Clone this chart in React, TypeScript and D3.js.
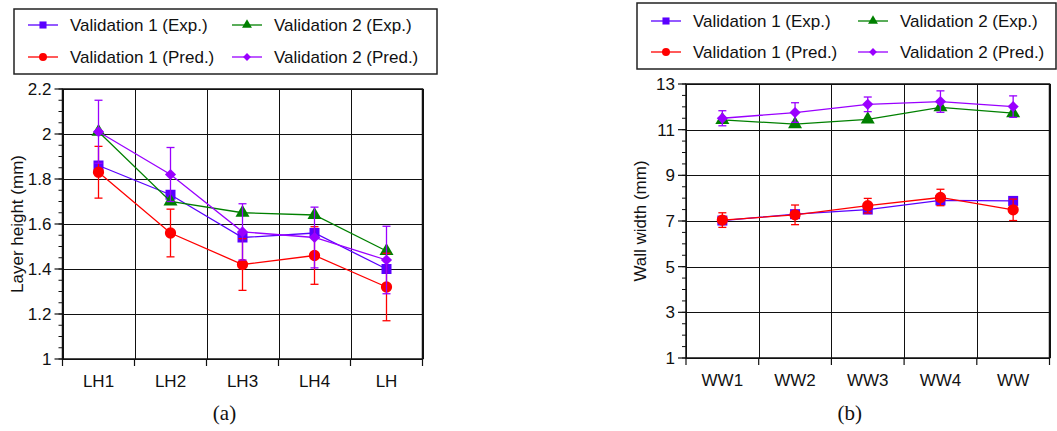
import React from "react";
import * as d3 from "d3";

// (a) layer height
const lhCategories = ["LH1", "LH2", "LH3", "LH4", "LH"];
const lhV1Exp = [1.86, 1.73, 1.54, 1.56, 1.4];
const lhV2Exp = [2.01, 1.7, 1.65, 1.64, 1.48];
const lhV1Pred = [1.83, 1.56, 1.42, 1.46, 1.32];
const lhV1PredErr = [0.115, 0.106, 0.115, 0.128, 0.15];
const lhV2Pred = [2.01, 1.82, 1.565, 1.54, 1.44];
const lhV2PredErr = [0.14, 0.12, 0.125, 0.135, 0.15];
const lhTicks = [1, 1.2, 1.4, 1.6, 1.8, 2, 2.2];

// (b) wall width
const wwCategories = ["WW1", "WW2", "WW3", "WW4", "WW"];
const wwV1Exp = [7.02, 7.3, 7.5, 7.9, 7.88];
const wwV2Exp = [11.43, 11.24, 11.45, 11.98, 11.72];
const wwV1Pred = [7.04, 7.27, 7.67, 8.03, 7.49];
const wwV1PredErr = [0.32, 0.43, 0.32, 0.36, 0.47];
const wwV2Pred = [11.5, 11.75, 12.11, 12.23, 12.01];
const wwV2PredErr = [0.33, 0.43, 0.32, 0.47, 0.47];
const wwTicks = [1, 3, 5, 7, 9, 11, 13];

const seriesNames = [
  "Validation 1 (Exp.)",
  "Validation 2 (Exp.)",
  "Validation 1 (Pred.)",
  "Validation 2 (Pred.)",
];

const BLUE = "#5a00ff";
const GREEN = "#008000";
const RED = "#ff0000";
const PURPLE = "#9a00ff";
const FONT = "'Liberation Sans', Arial, sans-serif";

const STYLES = [
  { color: BLUE, symbol: d3.symbolSquare, size: 100, rotate: 0 },
  { color: GREEN, symbol: d3.symbolTriangle, size: 85, rotate: 0 },
  { color: RED, symbol: d3.symbolCircle, size: 100, rotate: 0 },
  { color: PURPLE, symbol: d3.symbolSquare, size: 62, rotate: 45 },
];

function Marker({ x, y, style, scale = 1 }) {
  const path = d3.symbol().type(style.symbol).size(style.size * scale)();
  return (
    <path
      d={path}
      fill={style.color}
      transform={`translate(${x},${y}) rotate(${style.rotate})`}
    />
  );
}

function Legend({ x, y, w, h, rows, col2 }) {
  const order = [0, 1, 2, 3];
  return (
    <g>
      <rect x={x} y={y} width={w} height={h} fill="white" stroke="#222" strokeWidth={1.5} />
      {order.map((i) => {
        const cx = x + (i % 2 === 0 ? 14 : col2);
        const cy = rows[Math.floor(i / 2)];
        const st = STYLES[i];
        return (
          <g key={i}>
            <line x1={cx} x2={cx + 30} y1={cy} y2={cy} stroke={st.color} strokeWidth={1.3} />
            <Marker x={cx + 15} y={cy} style={st} scale={0.5} />
            <text x={cx + 42} y={cy + 6} fontSize={17} fontFamily={FONT} fill="#111">
              {seriesNames[i]}
            </text>
          </g>
        );
      })}
    </g>
  );
}

function Chart({ box, categories, domain, ticks, minorStep, tickFmt, series, errs, ylabel, caption }) {
  const x = d3.scaleBand().domain(categories).range([box.x0, box.x1]);
  const y = d3.scaleLinear().domain(domain).range([box.y1, box.y0]);
  const cx = (c) => x(c) + x.bandwidth() / 2;
  const minor = d3.range(domain[0], domain[1] + 1e-9, minorStep);
  const line = d3
    .line()
    .x((d, i) => cx(categories[i]))
    .y((d) => y(d));
  const bounds = categories.map((c) => x(c)).concat([box.x1]);

  return (
    <g>
      {/* grid */}
      {ticks.map((t) => (
        <line key={"h" + t} x1={box.x0} x2={box.x1} y1={Math.round(y(t)) + 0.5} y2={Math.round(y(t)) + 0.5} stroke="#111" strokeWidth={1} />
      ))}
      {bounds.map((b, i) => (
        <line key={"v" + i} x1={Math.round(b) + 0.5} x2={Math.round(b) + 0.5} y1={box.y0} y2={box.y1} stroke="#111" strokeWidth={1} />
      ))}
      <rect x={box.x0} y={box.y0} width={box.x1 - box.x0} height={box.y1 - box.y0} fill="none" stroke="#111" strokeWidth={1.5} />
      {/* y axis ticks */}
      {minor.map((t, i) => (
        <line key={"m" + i} x1={box.x0 - 4} x2={box.x0} y1={y(t)} y2={y(t)} stroke="#111" strokeWidth={1} />
      ))}
      {ticks.map((t) => (
        <g key={"t" + t}>
          <line x1={box.x0 - 8} x2={box.x0} y1={y(t)} y2={y(t)} stroke="#111" strokeWidth={1.2} />
          <text x={box.x0 - 11} y={y(t) + 6} textAnchor="end" fontSize={17} fontFamily={FONT} fill="#111">
            {tickFmt(t)}
          </text>
        </g>
      ))}
      {/* x axis ticks */}
      {bounds.map((b, i) => (
        <line key={"xt" + i} x1={b} x2={b} y1={box.y1} y2={box.y1 + 7} stroke="#111" strokeWidth={1.2} />
      ))}
      {categories.map((c) => (
        <text key={c} x={cx(c)} y={box.y1 + 28} textAnchor="middle" fontSize={17} fontFamily={FONT} fill="#111">
          {c}
        </text>
      ))}
      <text
        transform={`translate(${box.x0 - 40},${(box.y0 + box.y1) / 2}) rotate(-90)`}
        textAnchor="middle"
        fontSize={17}
        fontFamily={FONT}
        fill="#111"
      >
        {ylabel}
      </text>
      {/* series */}
      {series.map((vals, si) => {
        const st = STYLES[si];
        const err = errs[si];
        return (
          <g key={"s" + si}>
            <path d={line(vals)} fill="none" stroke={st.color} strokeWidth={1.3} />
            {err &&
              vals.map((v, i) => {
                const px = cx(categories[i]);
                const top = y(v + err[i]);
                const bot = y(v - err[i]);
                return (
                  <g key={"e" + i} stroke={st.color} strokeWidth={1.3}>
                    <line x1={px} x2={px} y1={top} y2={bot} />
                    <line x1={px - 4} x2={px + 4} y1={top} y2={top} />
                    <line x1={px - 4} x2={px + 4} y1={bot} y2={bot} />
                  </g>
                );
              })}
            {vals.map((v, i) => (
              <Marker key={"p" + i} x={cx(categories[i])} y={y(v)} style={st} />
            ))}
          </g>
        );
      })}
      <text
        x={(box.x0 + box.x1) / 2 - 18}
        y={420}
        textAnchor="middle"
        fontSize={21}
        fontFamily="'Liberation Serif', 'Times New Roman', serif"
        fill="#111"
      >
        {caption}
      </text>
    </g>
  );
}

export default function App() {
  return (
    <svg
      width={1057}
      height={431}
      style={{ position: "absolute", left: 0, top: 0, background: "white" }}
    >
      <Legend x={14} y={9} w={423} h={65} rows={[25, 57]} col2={218} />
      <Legend x={637} y={3} w={419} h={66} rows={[21, 52]} col2={221} />
      <Chart
        box={{ x0: 62.5, x1: 422.5, y0: 89, y1: 359 }}
        categories={lhCategories}
        domain={[1, 2.2]}
        ticks={lhTicks}
        minorStep={0.05}
        tickFmt={(t) => d3.format("~g")(t)}
        series={[lhV1Exp, lhV2Exp, lhV1Pred, lhV2Pred]}
        errs={[null, null, lhV1PredErr, lhV2PredErr]}
        ylabel="Layer height (mm)"
        caption="(a)"
      />
      <Chart
        box={{ x0: 686, x1: 1049.5, y0: 84, y1: 358 }}
        categories={wwCategories}
        domain={[1, 13]}
        ticks={wwTicks}
        minorStep={0.5}
        tickFmt={(t) => String(t)}
        series={[wwV1Exp, wwV2Exp, wwV1Pred, wwV2Pred]}
        errs={[null, null, wwV1PredErr, wwV2PredErr]}
        ylabel="Wall width (mm)"
        caption="(b)"
      />
    </svg>
  );
}
